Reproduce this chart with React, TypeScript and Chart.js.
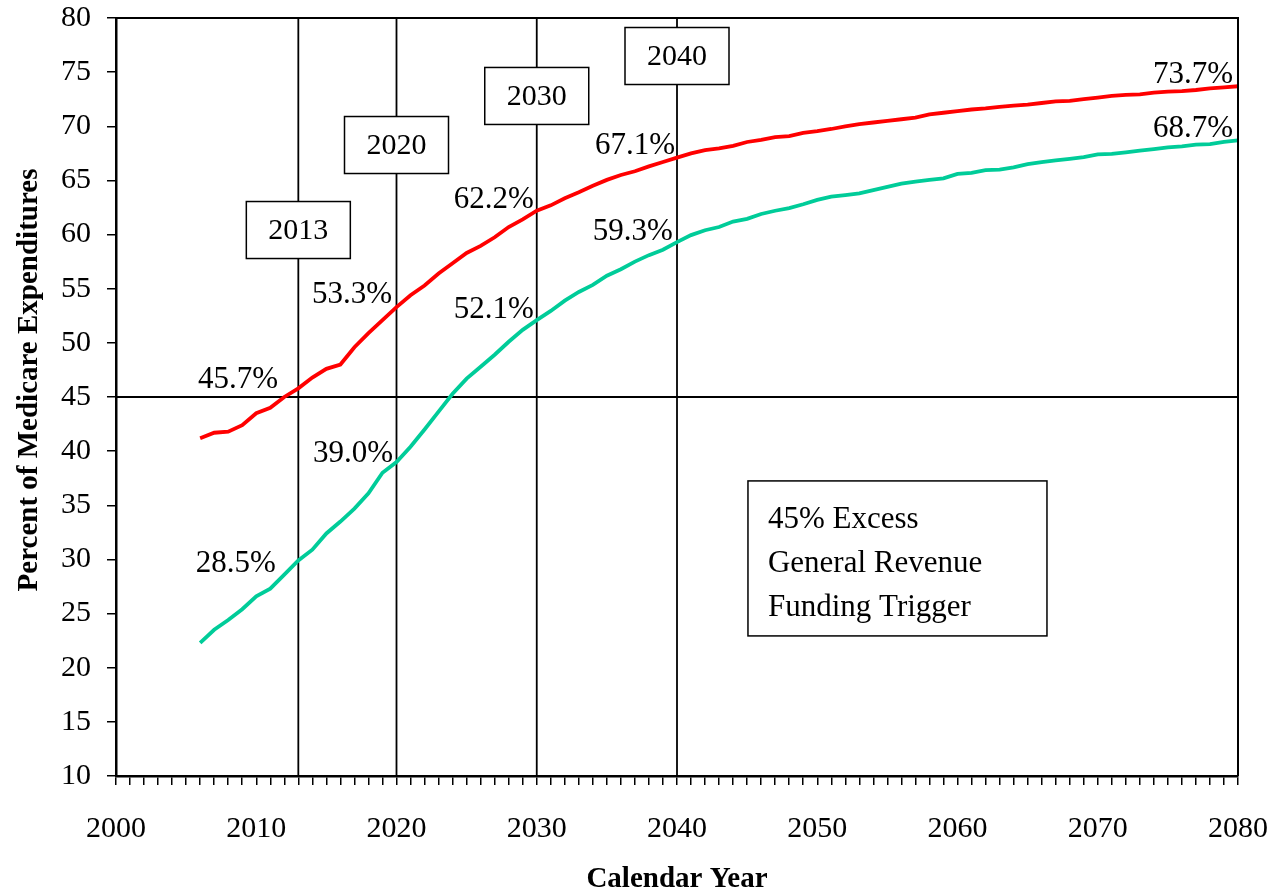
import React, { useEffect, useRef } from 'react';
import { Chart, registerables } from 'chart.js';

Chart.register(...registerables);

const years = [
  2006, 2007, 2008, 2009, 2010, 2011, 2012, 2013, 2014, 2015,
  2016, 2017, 2018, 2019, 2020, 2021, 2022, 2023, 2024, 2025,
  2026, 2027, 2028, 2029, 2030, 2031, 2032, 2033, 2034, 2035,
  2036, 2037, 2038, 2039, 2040, 2041, 2042, 2043, 2044, 2045,
  2046, 2047, 2048, 2049, 2050, 2051, 2052, 2053, 2054, 2055,
  2056, 2057, 2058, 2059, 2060, 2061, 2062, 2063, 2064, 2065,
  2066, 2067, 2068, 2069, 2070, 2071, 2072, 2073, 2074, 2075,
  2076, 2077, 2078, 2079, 2080,
];

const redSeries = [
  41.2, 41.7, 41.8, 42.4, 43.5, 44.0, 45.0, 45.8, 46.8, 47.6,
  48.0, 49.6, 50.9, 52.1, 53.3, 54.4, 55.3, 56.4, 57.35, 58.3,
  58.95, 59.75, 60.7, 61.4, 62.2, 62.7, 63.35, 63.9, 64.5, 65.05,
  65.5, 65.85, 66.3, 66.7, 67.1, 67.5, 67.8, 67.95, 68.2, 68.55,
  68.75, 69.0, 69.1, 69.4, 69.55, 69.75, 70.0, 70.2, 70.35, 70.5,
  70.65, 70.8, 71.1, 71.25, 71.4, 71.55, 71.65, 71.8, 71.9, 72.0,
  72.15, 72.3, 72.35, 72.5, 72.65, 72.8, 72.9, 72.95, 73.1, 73.2,
  73.25, 73.35, 73.5, 73.6, 73.7,
];

const greenSeries = [
  22.3, 23.5, 24.4, 25.4, 26.6, 27.3, 28.6, 29.9, 30.9, 32.4,
  33.5, 34.7, 36.1, 38.0, 39.0, 40.4, 42.0, 43.65, 45.3, 46.7,
  47.8, 48.9, 50.1, 51.2, 52.1, 52.95, 53.9, 54.7, 55.35, 56.2,
  56.8, 57.5, 58.1, 58.6, 59.3, 59.95, 60.4, 60.7, 61.2, 61.45,
  61.9, 62.2, 62.45, 62.8, 63.2, 63.5, 63.65, 63.8, 64.1, 64.4,
  64.7, 64.9, 65.05, 65.2, 65.6, 65.7, 65.95, 66.0, 66.2, 66.5,
  66.7, 66.85, 67.0, 67.15, 67.4, 67.45, 67.6, 67.75, 67.9, 68.05,
  68.15, 68.3, 68.35, 68.55, 68.7,
];

const triggerLevel = 45;
const markerYears = [2013, 2020, 2030, 2040];
const markerLabels = ['2013', '2020', '2030', '2040'];
// box center anchors (value on y axis)
const markerBoxValues = [60.42, 68.27, 72.8, 76.49];

// value labels: text, anchor year (right edge), anchor value (baseline)
const labelTexts = ['45.7%', '53.3%', '62.2%', '67.1%', '73.7%', '28.5%', '39.0%', '52.1%', '59.3%', '68.7%'];
const labelYears = [2011.55, 2019.68, 2029.8, 2039.86, 2079.64, 2011.4, 2019.75, 2029.8, 2039.7, 2079.64];
const labelValues = [45.83, 53.68, 62.45, 67.44, 74.0, 28.84, 39.0, 52.3, 59.5, 69.0];

const noteLines = ['45% Excess', 'General Revenue', 'Funding Trigger'];
const noteAnchorYear = 2045.06;
const noteAnchorValue = 37.25;

const xTitle = 'Calendar Year';
const yTitle = 'Percent of Medicare Expenditures';

const FONT = '"Liberation Serif", "Times New Roman", serif';

const overlayPlugin = {
  id: 'overlay',
  beforeDatasetsDraw(chart: any) {
    const { ctx, chartArea, scales } = chart;
    const xs = scales.x;
    const ys = scales.y;
    ctx.save();
    ctx.strokeStyle = '#000';
    ctx.lineWidth = 1.8;
    const yT = ys.getPixelForValue(triggerLevel);
    ctx.beginPath();
    ctx.moveTo(chartArea.left, yT);
    ctx.lineTo(chartArea.right, yT);
    ctx.stroke();
    markerYears.forEach((yr) => {
      const x = xs.getPixelForValue(yr);
      ctx.beginPath();
      ctx.moveTo(x, chartArea.top);
      ctx.lineTo(x, chartArea.bottom);
      ctx.stroke();
    });
    ctx.restore();
  },
  afterDatasetsDraw(chart: any) {
    const { ctx, chartArea, scales } = chart;
    const xs = scales.x;
    const ys = scales.y;
    ctx.save();
    ctx.strokeStyle = '#000';
    ctx.lineWidth = 2;
    ctx.beginPath();
    ctx.moveTo(chartArea.left, chartArea.top);
    ctx.lineTo(chartArea.right, chartArea.top);
    ctx.lineTo(chartArea.right, chartArea.bottom);
    ctx.stroke();

    const bw = 104;
    const bh = 57;
    ctx.font = `30px ${FONT}`;
    ctx.textAlign = 'center';
    ctx.textBaseline = 'middle';
    markerYears.forEach((yr, i) => {
      const cx = xs.getPixelForValue(yr);
      const cy = ys.getPixelForValue(markerBoxValues[i]);
      ctx.fillStyle = '#fff';
      ctx.fillRect(cx - bw / 2, cy - bh / 2, bw, bh);
      ctx.lineWidth = 1.5;
      ctx.strokeStyle = '#000';
      ctx.strokeRect(cx - bw / 2, cy - bh / 2, bw, bh);
      ctx.fillStyle = '#000';
      ctx.fillText(markerLabels[i], cx, cy + 1);
    });

    ctx.font = `31px ${FONT}`;
    ctx.textAlign = 'right';
    ctx.textBaseline = 'alphabetic';
    ctx.fillStyle = '#000';
    labelTexts.forEach((t, i) => {
      ctx.fillText(t, xs.getPixelForValue(labelYears[i]), ys.getPixelForValue(labelValues[i]));
    });

    const nx = xs.getPixelForValue(noteAnchorYear);
    const ny = ys.getPixelForValue(noteAnchorValue);
    ctx.fillStyle = '#fff';
    ctx.fillRect(nx, ny, 299, 155);
    ctx.lineWidth = 1.5;
    ctx.strokeStyle = '#000';
    ctx.strokeRect(nx, ny, 299, 155);
    ctx.fillStyle = '#000';
    ctx.font = `31px ${FONT}`;
    ctx.textAlign = 'left';
    noteLines.forEach((t, i) => {
      ctx.fillText(t, nx + 20, ny + 47 + i * 44);
    });

    ctx.font = `bold 29px ${FONT}`;
    ctx.textAlign = 'center';
    ctx.textBaseline = 'middle';
    ctx.fillText(xTitle, (chartArea.left + chartArea.right) / 2, 880);
    ctx.save();
    ctx.translate(30, 380);
    ctx.rotate(-Math.PI / 2);
    ctx.fillText(yTitle, 0, 0);
    ctx.restore();
    ctx.restore();
  },
};

export default function App() {
  const canvasRef = useRef<HTMLCanvasElement | null>(null);

  useEffect(() => {
    if (!canvasRef.current) return;
    const chart = new Chart(canvasRef.current, {
      type: 'line',
      data: {
        datasets: [
          {
            label: 'Red',
            data: years.map((yr, i) => ({ x: yr, y: redSeries[i] })),
            borderColor: '#FF0000',
            borderWidth: 3.8,
            pointRadius: 0,
            tension: 0,
            fill: false,
          },
          {
            label: 'Green',
            data: years.map((yr, i) => ({ x: yr, y: greenSeries[i] })),
            borderColor: '#00CC99',
            borderWidth: 3.8,
            pointRadius: 0,
            tension: 0,
            fill: false,
          },
        ],
      },
      options: {
        animation: false,
        responsive: true,
        maintainAspectRatio: false,
        layout: { padding: { top: 18, right: 34, left: 0, bottom: 0 } },
        plugins: {
          legend: { display: false },
          tooltip: { enabled: false },
        },
        scales: {
          x: {
            type: 'linear',
            min: 2000,
            max: 2080,
            afterFit: (scale: any) => {
              scale.height = 119;
              scale.paddingLeft = 0;
              scale.paddingRight = 0;
              scale.paddingTop = 0;
              scale.paddingBottom = 0;
            },
            ticks: {
              stepSize: 1,
              autoSkip: false,
              maxRotation: 0,
              minRotation: 0,
              padding: 26,
              color: '#000',
              font: { family: FONT, size: 30 },
              callback: (v: any) => (Number(v) % 10 === 0 ? String(v) : ''),
            },
            grid: {
              drawOnChartArea: false,
              drawTicks: true,
              tickLength: 9,
              color: '#000',
              lineWidth: 1.5,
            },
            border: { display: true, color: '#000', width: 2.5 },
          },
          y: {
            type: 'linear',
            min: 10,
            max: 80,
            afterFit: (scale: any) => {
              scale.width = 116;
              scale.paddingLeft = 0;
              scale.paddingRight = 0;
              scale.paddingTop = 0;
              scale.paddingBottom = 0;
            },
            ticks: {
              stepSize: 5,
              padding: 16,
              color: '#000',
              font: { family: FONT, size: 30 },
            },
            grid: {
              drawOnChartArea: false,
              drawTicks: true,
              tickLength: 9,
              color: '#000',
              lineWidth: 1.5,
            },
            border: { display: true, color: '#000', width: 2.5 },
          },
        },
      },
      plugins: [overlayPlugin],
    });
    return () => chart.destroy();
  }, []);

  return (
    <div style={{ position: 'fixed', left: 0, top: 0, width: 1272, height: 895, background: '#fff' }}>
      <canvas ref={canvasRef} />
    </div>
  );
}
